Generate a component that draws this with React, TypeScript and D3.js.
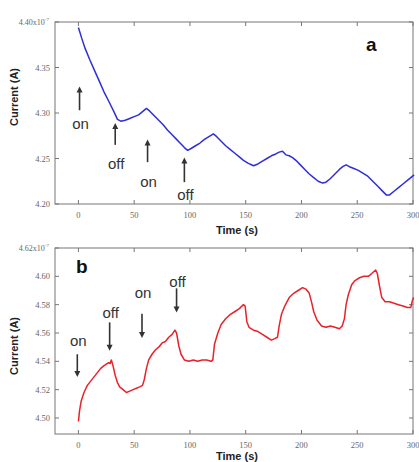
import React from 'react';
import * as d3 from 'd3';

// panel a: current decay under light on/off
const timeA = [0, 3, 6, 10, 14, 18, 23, 28, 32, 35, 38, 42, 46, 50, 54, 58, 61, 64, 68, 72, 76, 80, 84, 88, 92, 95, 98, 101, 105, 109, 113, 117, 121, 124, 128, 132, 136, 140, 144, 148, 152, 157, 161, 165, 169, 173, 177, 180, 183, 186, 189, 192, 195, 199, 203, 207, 211, 215, 219, 222, 226, 230, 234, 237, 240, 243, 247, 251, 255, 259, 263, 268, 272, 276, 279, 283, 287, 291, 295, 298, 301];
const currentA = [4.394, 4.382, 4.371, 4.359, 4.348, 4.337, 4.323, 4.311, 4.301, 4.293, 4.291, 4.292, 4.294, 4.296, 4.298, 4.302, 4.305, 4.302, 4.297, 4.292, 4.287, 4.281, 4.276, 4.271, 4.266, 4.262, 4.259, 4.261, 4.264, 4.267, 4.271, 4.274, 4.277, 4.274, 4.269, 4.264, 4.260, 4.256, 4.252, 4.248, 4.245, 4.242, 4.244, 4.247, 4.250, 4.253, 4.255, 4.257, 4.258, 4.254, 4.253, 4.251, 4.248, 4.243, 4.238, 4.233, 4.229, 4.225, 4.223, 4.224, 4.228, 4.233, 4.238, 4.241, 4.243, 4.241, 4.239, 4.237, 4.234, 4.231, 4.226, 4.220, 4.215, 4.210, 4.210, 4.214, 4.218, 4.222, 4.226, 4.229, 4.232];

// panel b: current rise under light on/off
const timeB = [0, 1, 2.5, 5, 8, 11, 14, 17, 20, 23, 25, 27, 28.5, 29.5, 31, 33, 35, 37, 40, 43, 46, 49, 52, 55, 57.5, 59, 61, 63, 66, 69, 72, 75, 78, 81, 84, 86.5, 88, 90, 92, 95, 99, 103, 107, 111, 115, 119, 120.5, 122, 125, 128, 132, 136, 140, 144, 148, 149.5, 151, 153, 157, 161, 165, 169, 173, 176, 178.5, 180, 182, 185, 189, 193, 197, 201, 204, 207, 209, 211, 214, 218, 222, 226, 230, 234, 236.5, 238.5, 240, 242, 245, 248, 252, 256, 260, 263, 266.5, 268, 270, 272, 275, 279, 283, 287, 291, 295, 298, 299.5, 300.5];
const currentB = [4.4975, 4.505, 4.512, 4.518, 4.523, 4.526, 4.529, 4.532, 4.535, 4.537, 4.538, 4.539, 4.5385, 4.541, 4.537, 4.530, 4.525, 4.522, 4.520, 4.518, 4.519, 4.520, 4.521, 4.522, 4.523, 4.527, 4.535, 4.541, 4.545, 4.548, 4.550, 4.553, 4.554, 4.557, 4.559, 4.562, 4.560, 4.551, 4.545, 4.541, 4.540, 4.541, 4.540, 4.541, 4.541, 4.540, 4.541, 4.552, 4.560, 4.566, 4.570, 4.573, 4.575, 4.577, 4.580, 4.579, 4.568, 4.564, 4.562, 4.561, 4.559, 4.557, 4.555, 4.556, 4.557, 4.565, 4.573, 4.579, 4.585, 4.588, 4.590, 4.592, 4.591, 4.588, 4.582, 4.575, 4.569, 4.565, 4.564, 4.565, 4.564, 4.563, 4.565, 4.570, 4.580, 4.587, 4.594, 4.597, 4.599, 4.600, 4.600, 4.602, 4.6045, 4.602, 4.593, 4.585, 4.582, 4.582, 4.581, 4.580, 4.579, 4.578, 4.578, 4.583, 4.585];

const xTicks = [0, 50, 100, 150, 200, 250, 300];
const yTicksA = [4.20, 4.25, 4.30, 4.35, 4.40];
const yTicksB = [4.50, 4.52, 4.54, 4.56, 4.58, 4.60, 4.62];

// light switch annotations: time of arrow, label
const marksA = [
  { t: 1, label: 'on', head: 4.329, tail: 4.303, text: 4.282 },
  { t: 33, label: 'off', head: 4.289, tail: 4.265, text: 4.238 },
  { t: 62, label: 'on', head: 4.271, tail: 4.246, text: 4.219 },
  { t: 95, label: 'off', head: 4.251, tail: 4.224, text: 4.204 },
];
const marksB = [
  { t: -1, label: 'on', head: 4.529, tail: 4.545, text: 4.5505 },
  { t: 28, label: 'off', head: 4.5475, tail: 4.5675, text: 4.5705 },
  { t: 57, label: 'on', head: 4.5565, tail: 4.5735, text: 4.5845 },
  { t: 88, label: 'off', head: 4.5745, tail: 4.5915, text: 4.5925 },
];

const left = 55;
const right = 413;

type Mark = { t: number; label: string; head: number; tail: number; text: number };

const Panel = ({ top, bottom, times, values, yDomain, yTicks, topLabel, color, marks, letter, letterPos, labelY, timeY }: {
  top: number; bottom: number; times: number[]; values: number[]; yDomain: [number, number];
  yTicks: number[]; topLabel: string; color: string; marks: Mark[]; letter: string;
  letterPos: [number, number]; labelY: number; timeY: number;
}) => {
  const x = d3.scaleLinear().domain([-21, 300]).range([left, right]);
  const y = d3.scaleLinear().domain(yDomain).range([bottom, top]);
  const line = d3.line<number>().x((_, i) => x(times[i])).y(d => y(d));
  const axisColor = '#777';
  const tickFont = '"Liberation Serif", "DejaVu Serif", serif';
  const sans = '"Liberation Sans", Arial, sans-serif';
  return (
    <g>
      <rect x={left} y={top} width={right - left} height={bottom - top} fill="none" stroke={axisColor} strokeWidth={1} />
      {xTicks.map(t => (
        <g key={'x' + t}>
          <line x1={x(t)} x2={x(t)} y1={bottom} y2={bottom - 4} stroke={axisColor} />
          <line x1={x(t)} x2={x(t)} y1={top} y2={top + 4} stroke={axisColor} />
          <text x={x(t)} y={bottom + 14} textAnchor="middle" fontFamily={tickFont} fontSize={8.5} fill="#666">{t}</text>
        </g>
      ))}
      {yTicks.map((v, i) => (
        <g key={'y' + v}>
          <line x1={left} x2={left + 4} y1={y(v)} y2={y(v)} stroke={axisColor} />
          <line x1={right} x2={right - 4} y1={y(v)} y2={y(v)} stroke={axisColor} />
          {i === yTicks.length - 1 ? (
            <text x={left - 6} y={y(v) + 3} textAnchor="end" fontFamily={tickFont} fontSize={8} fill="#666">
              {topLabel}x10<tspan dy={-4} fontSize={5}>-7</tspan>
            </text>
          ) : (
            <text x={left - 5} y={y(v) + 3} textAnchor="end" fontFamily={tickFont} fontSize={8.5} fill="#666">{v.toFixed(2)}</text>
          )}
        </g>
      ))}
      <path d={line(values) || ''} fill="none" stroke={color} strokeWidth={1.5} strokeLinejoin="round" />
      {marks.map((m, i) => {
        const up = m.head > m.tail;
        const hx = x(m.t);
        const hy = y(m.head);
        const ty = y(m.tail);
        const dir = up ? 1 : -1;
        return (
          <g key={'m' + i}>
            <line x1={hx} x2={hx} y1={ty} y2={hy + dir * 4} stroke="#333" strokeWidth={1.6} />
            <path d={`M${hx - 3},${hy + dir * 6} L${hx},${hy} L${hx + 3},${hy + dir * 6} Z`} fill="#333" />
            <text x={hx + 1} y={y(m.text)} textAnchor="middle" fontFamily={sans} fontSize={15} fill="#333">{m.label}</text>
          </g>
        );
      })}
      <text x={letterPos[0]} y={letterPos[1]} fontFamily={sans} fontWeight="bold" fontSize={19} fill="#111">{letter}</text>
      <text transform={`translate(18,${labelY}) rotate(-90)`} textAnchor="middle" fontFamily={sans} fontWeight="bold" fontSize={11} fill="#222">Current (A)</text>
      <text x={237} y={timeY} textAnchor="middle" fontFamily={sans} fontWeight="bold" fontSize={11} fill="#222">Time (s)</text>
    </g>
  );
};

export default function App() {
  return (
    <svg width={419} height={462} style={{ position: 'absolute', left: 0, top: 0, background: '#fff' }}>
      <Panel top={22} bottom={204} times={timeA} values={currentA} yDomain={[4.2, 4.4]} yTicks={yTicksA}
        topLabel="4.40" color="#2f2fd8" marks={marksA} letter="a" letterPos={[366, 51]} labelY={97} timeY={234} />
      <Panel top={248} bottom={434} times={timeB} values={currentB} yDomain={[4.4887, 4.62]} yTicks={yTicksB}
        topLabel="4.62" color="#e8222a" marks={marksB} letter="b" letterPos={[76, 273]} labelY={346} timeY={460} />
    </svg>
  );
}
